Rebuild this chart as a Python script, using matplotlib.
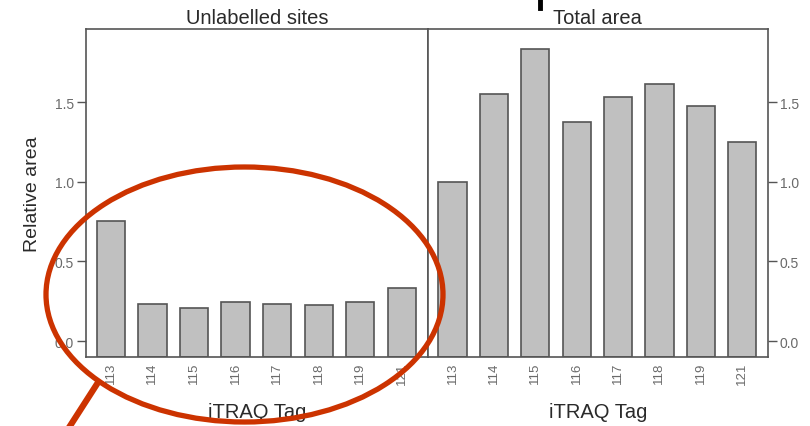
import matplotlib
matplotlib.use("Agg")
import matplotlib.pyplot as plt
from matplotlib.patches import Ellipse
import numpy as np

plt.rcParams["font.family"] = ["Liberation Sans", "DejaVu Sans"]

tags = ["113", "114", "115", "116", "117", "118", "119", "121"]
unlabelled = [0.755, 0.233, 0.21, 0.247, 0.235, 0.226, 0.243, 0.335]
total = [1.002, 1.553, 1.836, 1.375, 1.536, 1.614, 1.476, 1.253]
yticks = [0.0, 0.5, 1.0, 1.5]

ymin, ymax = -0.1, 1.96
bar_col = "#c0c0c0"
edge_col = "#555555"
tick_col = "#6a6a6a"
txt_col = "#2a2a2a"

fig = plt.figure(figsize=(8.1, 4.27), dpi=100)
ax1 = fig.add_axes([0.106, 0.1616, 0.528 - 0.106, 0.9297 - 0.1616])
ax2 = fig.add_axes([0.528, 0.1616, 0.948 - 0.528, 0.9297 - 0.1616])

x = np.arange(len(tags))
for ax, vals, title in [(ax1, unlabelled, "Unlabelled sites"), (ax2, total, "Total area")]:
    ax.bar(x, np.array(vals) - ymin, bottom=ymin, width=0.68,
           color=bar_col, edgecolor=edge_col, linewidth=1.2)
    ax.set_xlim(-0.6, len(tags) - 1 + 0.62)
    ax.set_ylim(ymin, ymax)
    ax.set_xticks(x)
    ax.set_xticklabels(tags, rotation=90, fontsize=9.5, color=tick_col)
    ax.tick_params(axis="x", length=0, pad=3.5)
    ax.set_yticks(yticks)
    ax.set_yticklabels([f"{v:.1f}" for v in yticks], fontsize=10, color=tick_col)
    ax.tick_params(axis="y", length=6.5, color=edge_col, width=1, pad=2)
    for s in ax.spines.values():
        s.set_color(edge_col)
        s.set_linewidth(1.2)
    ax.set_xlabel("iTRAQ Tag", fontsize=14.5, color=txt_col, labelpad=13)
    ax.set_title(title, fontsize=14.5, color=txt_col, pad=4)

ax1.set_ylabel("Relative area", fontsize=14, color=txt_col, labelpad=10)
ax2.yaxis.tick_right()

# stray black mark above right title
fig.add_artist(plt.Line2D([540 / 810, 540 / 810], [1.0, 1 - 9 / 427],
                          transform=fig.transFigure, color="black", linewidth=3.5))

# red annotation ellipse and pointer line
ell = Ellipse((244.5 / 810, 1 - 295.5 / 427), 397 / 810, 255 / 427,
              transform=fig.transFigure, fill=False, edgecolor="#cc3300", linewidth=3.8)
fig.add_artist(ell)
fig.add_artist(plt.Line2D([97 / 810, 70 / 810], [1 - 385 / 427, 0.0],
                          transform=fig.transFigure, color="#cc3300", linewidth=4.5))

fig.savefig("out.png", dpi=100)
